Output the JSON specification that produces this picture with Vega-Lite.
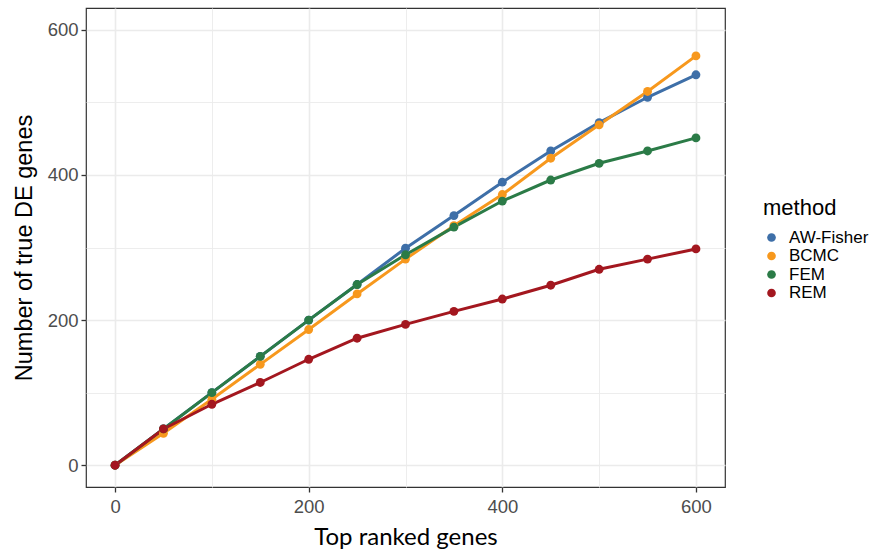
{
  "$schema": "https://vega.github.io/schema/vega-lite/v6.json",
  "autosize": "none",
  "width": 639,
  "height": 479,
  "padding": {"left": 86, "top": 8, "right": 152, "bottom": 67},
  "background": "white",
  "view": {"stroke": "#333333", "strokeWidth": 1.2},
  "data": {
    "values": [
      {"genes": 0, "de": 0, "method": "AW-Fisher"},
      {"genes": 50, "de": 50, "method": "AW-Fisher"},
      {"genes": 100, "de": 100, "method": "AW-Fisher"},
      {"genes": 150, "de": 150, "method": "AW-Fisher"},
      {"genes": 200, "de": 200, "method": "AW-Fisher"},
      {"genes": 250, "de": 249, "method": "AW-Fisher"},
      {"genes": 300, "de": 299, "method": "AW-Fisher"},
      {"genes": 350, "de": 344, "method": "AW-Fisher"},
      {"genes": 400, "de": 390, "method": "AW-Fisher"},
      {"genes": 450, "de": 433, "method": "AW-Fisher"},
      {"genes": 500, "de": 472, "method": "AW-Fisher"},
      {"genes": 550, "de": 507, "method": "AW-Fisher"},
      {"genes": 600, "de": 538, "method": "AW-Fisher"},
      {"genes": 0, "de": 0, "method": "BCMC"},
      {"genes": 50, "de": 44, "method": "BCMC"},
      {"genes": 100, "de": 91, "method": "BCMC"},
      {"genes": 150, "de": 139, "method": "BCMC"},
      {"genes": 200, "de": 187, "method": "BCMC"},
      {"genes": 250, "de": 236, "method": "BCMC"},
      {"genes": 300, "de": 284, "method": "BCMC"},
      {"genes": 350, "de": 330, "method": "BCMC"},
      {"genes": 400, "de": 373, "method": "BCMC"},
      {"genes": 450, "de": 423, "method": "BCMC"},
      {"genes": 500, "de": 469, "method": "BCMC"},
      {"genes": 550, "de": 515, "method": "BCMC"},
      {"genes": 600, "de": 564, "method": "BCMC"},
      {"genes": 0, "de": 0, "method": "FEM"},
      {"genes": 50, "de": 50, "method": "FEM"},
      {"genes": 100, "de": 100, "method": "FEM"},
      {"genes": 150, "de": 150, "method": "FEM"},
      {"genes": 200, "de": 200, "method": "FEM"},
      {"genes": 250, "de": 249, "method": "FEM"},
      {"genes": 300, "de": 290, "method": "FEM"},
      {"genes": 350, "de": 328, "method": "FEM"},
      {"genes": 400, "de": 364, "method": "FEM"},
      {"genes": 450, "de": 393, "method": "FEM"},
      {"genes": 500, "de": 416, "method": "FEM"},
      {"genes": 550, "de": 433, "method": "FEM"},
      {"genes": 600, "de": 451, "method": "FEM"},
      {"genes": 0, "de": 0, "method": "REM"},
      {"genes": 50, "de": 50, "method": "REM"},
      {"genes": 100, "de": 84, "method": "REM"},
      {"genes": 150, "de": 114, "method": "REM"},
      {"genes": 200, "de": 146, "method": "REM"},
      {"genes": 250, "de": 175, "method": "REM"},
      {"genes": 300, "de": 194, "method": "REM"},
      {"genes": 350, "de": 212, "method": "REM"},
      {"genes": 400, "de": 229, "method": "REM"},
      {"genes": 450, "de": 248, "method": "REM"},
      {"genes": 500, "de": 270, "method": "REM"},
      {"genes": 550, "de": 284, "method": "REM"},
      {"genes": 600, "de": 298, "method": "REM"}
    ]
  },
  "encoding": {
    "x": {
      "field": "genes", "type": "quantitative",
      "scale": {"domain": [-30, 630], "nice": false, "zero": false},
      "axis": {
        "title": "Top ranked genes",
        "values": [0, 100, 200, 300, 400, 500, 600],
        "labelExpr": "datum.value % 200 === 0 ? datum.label : ''",
        "domain": false,
        "grid": true,
        "gridColor": "#ebebeb",
        "gridWidth": {"condition": {"test": "datum.value % 200 === 0", "value": 1.6}, "value": 0.9},
        "tickColor": {"condition": {"test": "datum.value % 200 === 0", "value": "#333333"}, "value": "rgba(0,0,0,0)"},
        "tickSize": 5,
        "tickWidth": 1.3,
        "labelFont": "Liberation Sans",
        "labelFontSize": 18.5,
        "labelColor": "#4d4d4d",
        "labelPadding": 5,
        "titleFont": "Lato",
        "titleFontSize": 24,
        "titleFontWeight": "normal",
        "titleColor": "#000000",
        "titlePadding": 10
      }
    },
    "y": {
      "field": "de", "type": "quantitative",
      "scale": {"domain": [-30, 630], "nice": false, "zero": false},
      "axis": {
        "title": "Number of true DE genes",
        "values": [0, 100, 200, 300, 400, 500, 600],
        "labelExpr": "datum.value % 200 === 0 ? datum.label : ''",
        "domain": false,
        "grid": true,
        "gridColor": "#ebebeb",
        "gridWidth": {"condition": {"test": "datum.value % 200 === 0", "value": 1.6}, "value": 0.9},
        "tickColor": {"condition": {"test": "datum.value % 200 === 0", "value": "#333333"}, "value": "rgba(0,0,0,0)"},
        "tickSize": 5,
        "tickWidth": 1.3,
        "labelFont": "Liberation Sans",
        "labelFontSize": 18.5,
        "labelColor": "#4d4d4d",
        "labelPadding": 3,
        "titleFont": "Liberation Sans",
        "titleFontSize": 23.5,
        "titleFontWeight": "normal",
        "titleColor": "#000000",
        "titlePadding": 11
      }
    },
    "color": {
      "field": "method", "type": "nominal",
      "scale": {
        "domain": ["AW-Fisher", "BCMC", "FEM", "REM"],
        "range": ["#3e6fa8", "#f7981d", "#2b7b47", "#a3171f"]
      },
      "legend": {
        "title": "method",
        "orient": "none",
        "legendX": 677,
        "legendY": 190,
        "titleFont": "Liberation Sans",
        "titleFontSize": 22,
        "titleFontWeight": "normal",
        "titleColor": "#000000",
        "titlePadding": 9,
        "labelFont": "Liberation Sans",
        "labelFontSize": 17,
        "labelColor": "#000000",
        "symbolType": "circle",
        "symbolSize": 75,
        "symbolStrokeWidth": 0,
        "rowPadding": 0.5,
        "labelOffset": 9
      }
    }
  },
  "layer": [
    {"mark": {"type": "line", "strokeWidth": 3}},
    {"mark": {"type": "point", "filled": true, "opacity": 1, "size": 78}}
  ]
}
